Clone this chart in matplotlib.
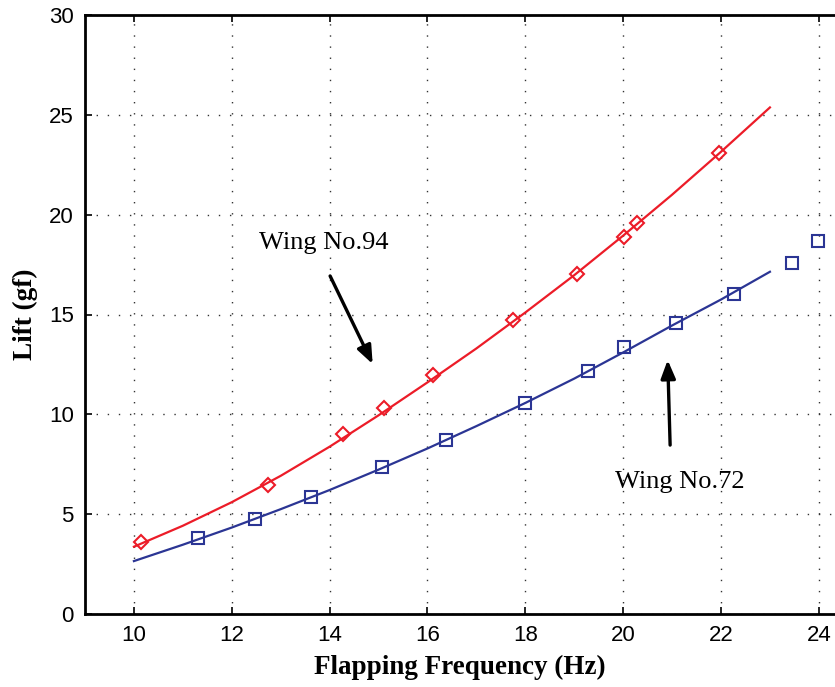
import matplotlib.pyplot as plt

# measured points, wing No.94 (red diamonds)
freq_94 = [10.14, 12.74, 14.27, 15.12, 16.12, 17.75, 19.05, 20.02, 20.29, 21.96]
lift_94 = [3.61, 6.46, 9.01, 10.30, 11.97, 14.72, 17.03, 18.86, 19.59, 23.10]

# measured points, wing No.72 (blue squares)
freq_72 = [11.30, 12.47, 13.62, 15.08, 16.38, 18.00, 19.28, 20.02, 21.08, 22.27, 23.45, 23.98]
lift_72 = [3.82, 4.74, 5.84, 7.38, 8.71, 10.58, 12.18, 13.38, 14.59, 16.01, 17.58, 18.68]

# fitted curves
fit_x = [10, 11, 12, 13, 14, 15, 16, 17, 18, 19, 20, 21, 22, 23]
fit_94 = [3.37, 4.42, 5.6, 6.92, 8.38, 9.95, 11.6, 13.3, 15.1, 16.97, 18.95, 21.0, 23.15, 25.37]
fit_72 = [2.65, 3.47, 4.33, 5.25, 6.21, 7.23, 8.29, 9.41, 10.57, 11.79, 13.1, 14.45, 15.75, 17.14]

xticks = [10, 12, 14, 16, 18, 20, 22, 24]
yticks = [0, 5, 10, 15, 20, 25, 30]

red = '#ec1c28'
blue = '#2b3594'

fig = plt.figure(figsize=(8.35, 6.87), dpi=100)
ax = fig.add_axes([85/835, 73/687, 750/835, 599/687])

ax.plot(fit_x, fit_94, color=red, lw=1.6)
ax.plot(fit_x, fit_72, color=blue, lw=1.6)
ax.plot(freq_94, lift_94, 'D', color=red, mfc='none', ms=7.5, mew=1.5)
ax.plot(freq_72, lift_72, 's', color=blue, mfc='none', ms=8, mew=1.5)

ax.set_xlim(9, 24.33)
ax.set_ylim(0, 30)
ax.set_xticks(xticks)
ax.set_yticks(yticks)
ax.grid(True, color='#333333', linestyle=(0, (1, 7)), lw=1)
ax.tick_params(direction='in', length=5, width=1.2, top=True, labelsize=16, pad=8)
for lab in ax.get_xticklabels() + ax.get_yticklabels():
    lab.set_family('Liberation Sans')
for s in ['left', 'bottom', 'top']:
    ax.spines[s].set_linewidth(2)
ax.spines['right'].set_visible(False)

ax.set_xlabel('Flapping Frequency (Hz)', family='Liberation Serif', fontweight='bold', fontsize=19.5, labelpad=6)
ax.set_ylabel('Lift (gf)', family='Liberation Serif', fontweight='bold', fontsize=19.5, labelpad=8)

arrow = dict(arrowstyle='-|>,head_length=0.5,head_width=0.2', lw=2.4, color='black', mutation_scale=22, shrinkA=0, shrinkB=0)
ax.annotate('', xy=(14.88, 12.52), xytext=(14.01, 16.93), arrowprops=arrow)
ax.annotate('', xy=(20.91, 12.72), xytext=(20.96, 8.46), arrowprops=arrow)
ax.text(12.55, 18.58, 'Wing No.94', family='Liberation Serif', fontsize=19, va='center')
ax.text(19.83, 6.61, 'Wing No.72', family='Liberation Serif', fontsize=19, va='center')

fig.savefig('out.png', dpi=100)
